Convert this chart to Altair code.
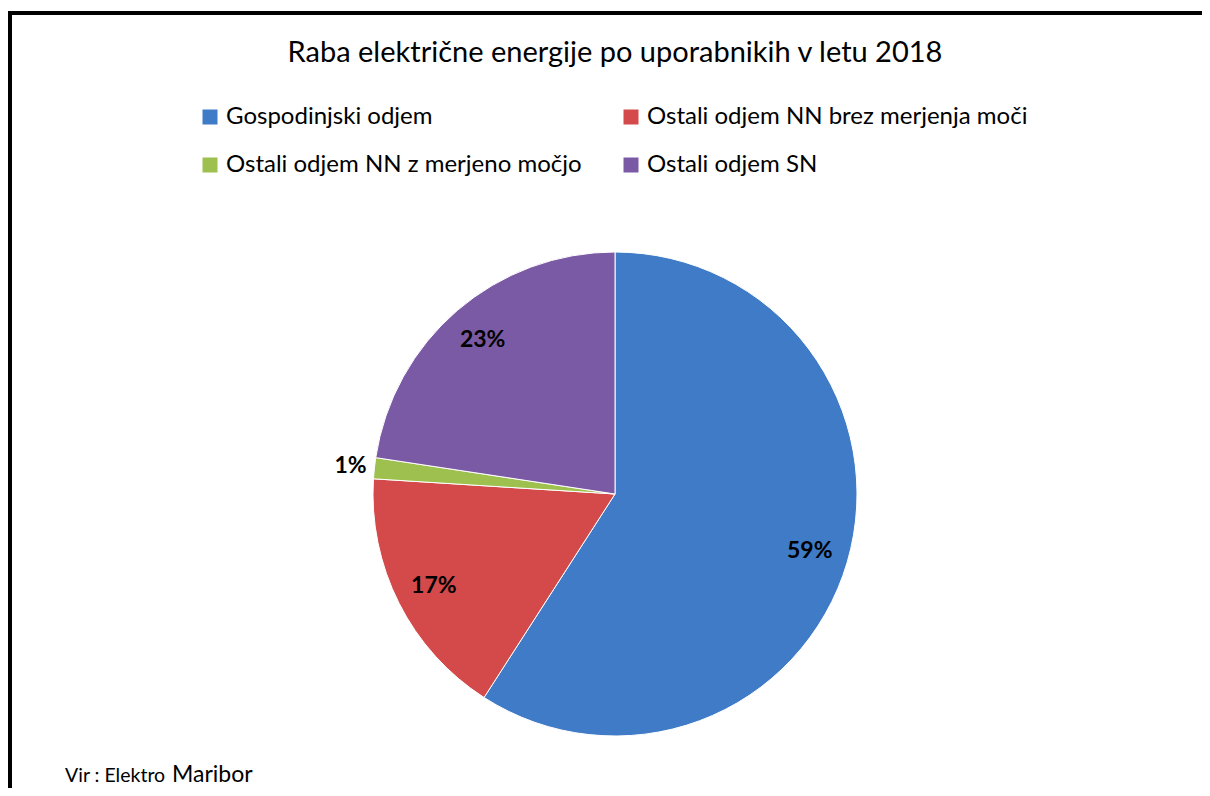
import math
import altair as alt
import pandas as pd

# ---- data ----
title_text = ["Raba električne energije po uporabnikih v letu 2018"]
categories = [
    "Gospodinjski odjem",
    "Ostali odjem NN brez merjenja moči",
    "Ostali odjem NN z merjeno močjo",
    "Ostali odjem SN",
]
shares = [59.1, 16.9, 1.4, 22.6]   # percent of total consumption
source_prefix = ["Vir : Elektro"]
source_name = ["Maribor"]

colors = ["#3f7bc6", "#d4494a", "#9dc04e", "#7b5aa5"]

df = pd.DataFrame({"kategorija": categories, "delez": shares, "red": list(range(len(categories)))})

W, H = 1194, 780
CX, CY = 607, 486
R = 242
FONT = "Lato"

base = alt.Chart(df)

pie = base.mark_arc(outerRadius=R, stroke="white", strokeWidth=1).encode(
    theta=alt.Theta("delez:Q", stack=True),
    order=alt.Order("red:Q"),
    color=alt.Color(
        "kategorija:N",
        scale=alt.Scale(domain=categories, range=colors),
        legend=alt.Legend(
            title=None,
            orient="none",
            legendX=190,
            legendY=97,
            columns=2,
            direction="horizontal",
            symbolType="square",
            symbolSize=225,
            symbolStrokeWidth=0,
            labelFontSize=24,
            labelFont=FONT,
            labelColor="black",
            labelOffset=4,
            columnPadding=37,
            rowPadding=24,
            labelLimit=600,
        ),
    ),
    x=alt.value(CX),
    y=alt.value(CY),
)

lab = base.transform_window(
    cum="sum(delez)", sort=[alt.SortField("red")], frame=[None, 0]
).transform_calculate(
    mid="datum.cum - datum.delez / 2",
    txt="format(datum.delez / 100, '.0%')",
)

theta_mid = alt.Theta("mid:Q", stack=False, scale=alt.Scale(domain=[0, 100], range=[0, 2 * math.pi]))

inner_labels = lab.transform_filter("datum.delez >= 5").mark_text(
    radius=203, fontSize=23, fontWeight="bold", font=FONT, color="black",
    align="center", baseline="middle",
).encode(theta=theta_mid, text="txt:N", x=alt.value(CX), y=alt.value(CY))

outer_labels = lab.transform_filter("datum.delez < 5").mark_text(
    radius=266, fontSize=23, fontWeight="bold", font=FONT, color="black",
    align="center", baseline="middle",
).encode(theta=theta_mid, text="txt:N", x=alt.value(CX), y=alt.value(CY))

title = alt.Chart(pd.DataFrame({"t": title_text})).mark_text(
    fontSize=29, font=FONT, color="black", align="center", baseline="middle"
).encode(text="t:N", x=alt.value(CX), y=alt.value(45))

src1 = alt.Chart(pd.DataFrame({"t": source_prefix})).mark_text(
    fontSize=19.5, font=FONT, color="black", align="left", baseline="alphabetic"
).encode(text="t:N", x=alt.value(57), y=alt.value(774))

src2 = alt.Chart(pd.DataFrame({"t": source_name})).mark_text(
    fontSize=23, font=FONT, color="black", align="left", baseline="alphabetic"
).encode(text="t:N", x=alt.value(164), y=alt.value(774))

frame_df = pd.DataFrame({"a": [0]})
top_rule = alt.Chart(frame_df).mark_rule(color="black", strokeWidth=4).encode(
    x=alt.value(0), x2=alt.value(W), y=alt.value(5)
)
left_rule = alt.Chart(frame_df).mark_rule(color="black", strokeWidth=4).encode(
    x=alt.value(2), y=alt.value(3), y2=alt.value(H)
)

chart = alt.layer(
    pie, inner_labels, outer_labels, title, src1, src2, top_rule, left_rule
).resolve_scale(theta="independent").properties(
    width=W, height=H, padding=0, autosize=alt.AutoSizeParams(type="none"),
    background="white",
).configure_view(stroke=None)

chart.save("out.html", embed_options={"renderer": "svg", "actions": False})
